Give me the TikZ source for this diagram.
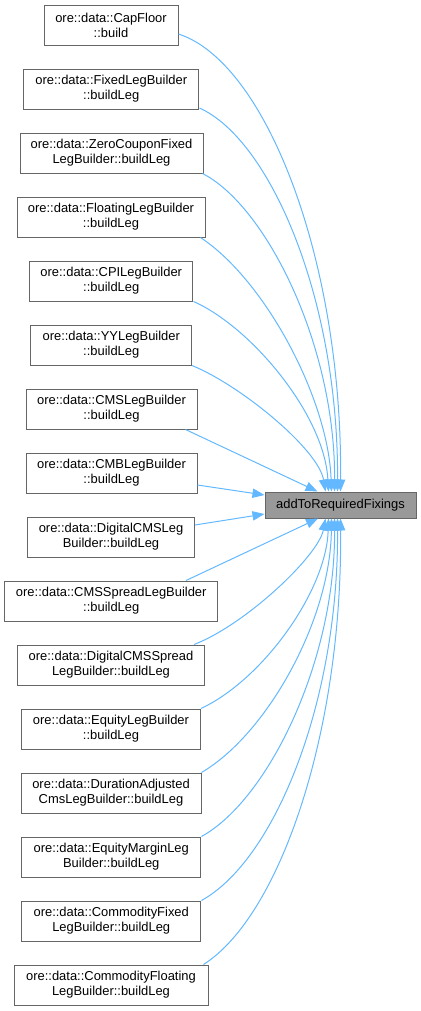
\documentclass[tikz,border=0pt]{standalone}
\usepackage{fontspec}
\setmainfont{Liberation Sans}
\usetikzlibrary{arrows.meta,calc}
\definecolor{edgeblue}{HTML}{63B8FF}
\definecolor{boxgray}{HTML}{666666}
\definecolor{targetfill}{HTML}{999999}
\begin{document}
\begin{tikzpicture}[x=0.75pt,y=-0.75pt,
  box/.style={draw=boxgray, fill=white, line width=0.75pt, minimum height=30pt, inner sep=0pt, align=center, font=\fontsize{9.7}{11.25}\selectfont},
  target/.style={box, fill=targetfill, minimum height=19.5pt},
  edge/.style={draw=edgeblue, line width=0.75pt, -{Triangle[length=9pt,width=7pt]}}]
\useasboundingbox (0,0) rectangle (421,1011);
\node[box, minimum width=100.5pt]  (cap)     at (111,25)   {ore::data::CapFloor\\::build};
\node[box, minimum width=131.6pt]  (fixed)   at (111.25,89) {ore::data::FixedLegBuilder\\::buildLeg};
\node[box, minimum width=137.25pt] (zero)    at (111.5,153) {ore::data::ZeroCouponFixed\\LegBuilder::buildLeg};
\node[box, minimum width=141pt]    (floating) at (111,217)  {ore::data::FloatingLegBuilder\\::buildLeg};
\node[box, minimum width=122.6pt]  (cpi)     at (111.25,281) {ore::data::CPILegBuilder\\::buildLeg};
\node[box, minimum width=120.4pt]  (yy)      at (111.25,345) {ore::data::YYLegBuilder\\::buildLeg};
\node[box, minimum width=128.25pt] (cms)     at (111.5,409) {ore::data::CMSLegBuilder\\::buildLeg};
\node[box, minimum width=128.25pt] (cmb)     at (111.5,473) {ore::data::CMBLegBuilder\\::buildLeg};
\node[box, minimum width=125.25pt] (dcms)    at (111,537)   {ore::data::DigitalCMSLeg\\Builder::buildLeg};
\node[box, minimum width=159.4pt]  (cmssp)   at (111.25,601) {ore::data::CMSSpreadLegBuilder\\::buildLeg};
\node[box, minimum width=140.25pt] (dcmssp)  at (111,665)   {ore::data::DigitalCMSSpread\\LegBuilder::buildLeg};
\node[box, minimum width=134.25pt] (eq)      at (111,729)   {ore::data::EquityLegBuilder\\::buildLeg};
\node[box, minimum width=135pt]    (dur)     at (111,793)   {ore::data::DurationAdjusted\\CmsLegBuilder::buildLeg};
\node[box, minimum width=134.6pt]  (eqm)     at (111.25,857) {ore::data::EquityMarginLeg\\Builder::buildLeg};
\node[box, minimum width=134.6pt]  (comfix)  at (111.25,921) {ore::data::CommodityFixed\\LegBuilder::buildLeg};
\node[box, minimum width=145.5pt]  (comflt)  at (111,985)   {ore::data::CommodityFloating\\LegBuilder::buildLeg};
\node[target, minimum width=113.25pt] (t) at (340.5,505) {addToRequiredFixings};
% top group
\draw[edge] ($(cap.east)+(0,9)$) .. controls +(87,28) and +(2,-232) .. (t.north);
\draw[edge] ($(fixed.east)+(0,19)$) .. controls +(71,32) and +(1,-192) .. ($(t.north)+(-3,0)$);
\draw[edge] ($(zero.south east)+(-1,0)$) .. controls +(63,32) and +(1,-147) .. ($(t.north)+(-6,0)$);
\draw[edge] ($(floating.south east)+(-5,0)$) .. controls +(65,43) and +(-3,-92) .. ($(t.north)+(-9,0)$);
\draw[edge] (cpi.south east) .. controls +(57,25) and +(-4,-77) .. ($(t.north)+(-12,0)$);
\draw[edge] (yy.south east) .. controls +(49,20) and +(-7,-42) .. ($(t.north)+(-15,0)$);
\draw[edge] ($(cms.south east)+(-12,0)$) -- ($(t.north)+(-23,0)$);
% side
\draw[edge] ($(cmb.east)+(0,12)$) -- ($(t.west)+(0,-10)$);
\draw[edge] ($(dcms.east)+(0,-12)$) -- ($(t.west)+(0,9)$);
% bottom group
\draw[edge] ($(cmssp.north east)+(-32,0)$) -- ($(t.south)+(-22.5,0)$);
\draw[edge] ($(dcmssp.north east)+(-11,0)$) .. controls +(52,-20) and +(-7,37) .. ($(t.south)+(-15,0)$);
\draw[edge] (eq.north east) .. controls +(62,-29) and +(-2,72) .. ($(t.south)+(-12,0)$);
\draw[edge] (dur.north east) .. controls +(65,-38) and +(-1,102) .. ($(t.south)+(-9,0)$);
\draw[edge] (eqm.north east) .. controls +(67,-37) and +(1,142) .. ($(t.south)+(-6,0)$);
\draw[edge] (comfix.north east) .. controls +(74,-41) and +(1,182) .. ($(t.south)+(-3,0)$);
\draw[edge] ($(comflt.north east)+(-5,0)$) .. controls +(77,-49) and +(2,212) .. (t.south);
\end{tikzpicture}
\end{document}
